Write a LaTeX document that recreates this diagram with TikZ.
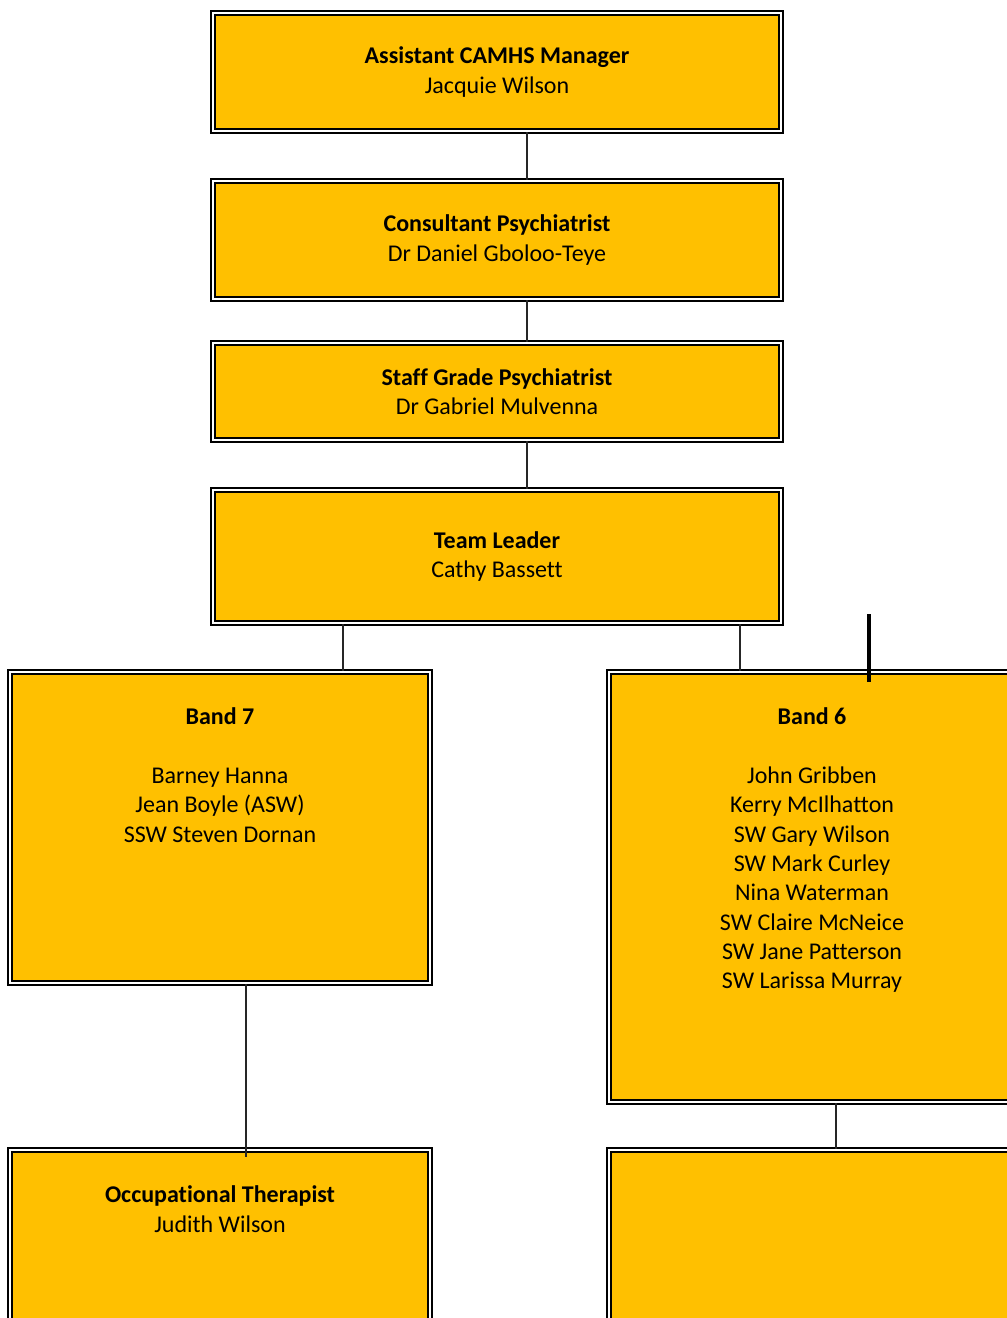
\documentclass[tikz,border=0pt]{standalone}
\usepackage{fontspec}
\setmainfont{Carlito}[Ligatures=NoCommon]
\usetikzlibrary{positioning}
\definecolor{postgold}{HTML}{FFC000}
\newcommand{\linkx}{22.5pt}

\tikzset{
  post/.style={draw=black,line width=1.5pt,double=white,double distance=1.5pt,fill=postgold,
    align=center,font=\fontsize{18}{22}\selectfont,inner sep=2pt},
  posttext/.style={align=center,font=\fontsize{18}{22}\selectfont,inner sep=0pt,anchor=north},
  link/.style={line width=1pt,draw=black!85},
}

\begin{document}
\begin{tikzpicture}
        \useasboundingbox (0,0) rectangle (755.25pt,-988.5pt);
        \node[post,minimum width=426pt,minimum height=88.5pt] (mgr) at (372.75pt,-54pt) {\textbf{Assistant CAMHS Manager}\\Jacquie Wilson};
        \node[post,minimum width=426pt,minimum height=88.5pt] (cons) at (372.75pt,-180pt) {\textbf{Consultant Psychiatrist}\\Dr Daniel Gboloo-Teye};
        \draw[link] ([xshift=\linkx]mgr.south) -- ([xshift=\linkx]cons.north);
        \node[post,minimum width=426pt,minimum height=72.75pt] (staff) at (372.75pt,-293.6pt) {\textbf{Staff Grade Psychiatrist}\\Dr Gabriel Mulvenna};
        \draw[link] ([xshift=\linkx]cons.south) -- ([xshift=\linkx]staff.north);
        \node[post,minimum width=426pt,minimum height=99.75pt] (lead) at (372.75pt,-417.4pt) {\textbf{Team Leader}\\Cathy Bassett};
        \draw[link] ([xshift=\linkx]staff.south) -- ([xshift=\linkx]lead.north);
        % second row
        \node[post,minimum width=315pt,minimum height=233.25pt] (band7) at (165pt,-620.6pt) {};
        \node[posttext,below=27.5pt of band7.north] (band7txt) {\textbf{Band 7}\\[22pt]Barney Hanna\\Jean Boyle (ASW)\\SSW Steven Dornan};
        \draw[link] ([xshift=-115.5pt]lead.south) -- ([xshift=-115.5pt]lead.south |- band7.north);
        \node[post,minimum width=304.5pt,minimum height=322.5pt] (band6) at (609pt,-665.25pt) {};
        \node[posttext,below=27.5pt of band6.north] (band6txt) {\textbf{Band 6}\\[22pt]John Gribben\\Kerry McIlhatton\\SW Gary Wilson\\SW Mark Curley\\Nina Waterman\\SW Claire McNeice\\SW Jane Patterson\\SW Larissa Murray};
        \draw[link] ([xshift=182.25pt]lead.south) -- ([xshift=182.25pt]lead.south |- band6.north);
        \coordinate (tick) at ([xshift=42.75pt,yshift=42.75pt]band6.north);
        \draw[line width=2.5pt] (tick) -- ([xshift=42.75pt,yshift=-8.25pt]band6.north);
        % third row
        \node[post,minimum width=315pt,minimum height=233.25pt] (ot) at (165pt,-979.1pt) {};
        \node[posttext,below=27.5pt of ot.north] (ottxt) {\textbf{Occupational Therapist}\\Judith Wilson};
        \draw[link,shorten >=-6pt] ([xshift=19.5pt]band7.south) -- ([xshift=19.5pt]ot.north);
        \node[post,minimum width=304.5pt,minimum height=322.5pt] (vacant) at (609pt,-1023.75pt) {};
        \draw[link] ([xshift=18pt]band6.south) -- ([xshift=18pt]vacant.north);
\end{tikzpicture}
\end{document}
